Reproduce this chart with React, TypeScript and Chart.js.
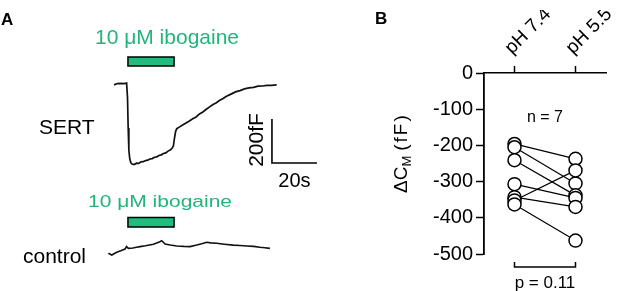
import React, { useEffect, useRef } from 'react';
import { Chart, registerables } from 'chart.js';

Chart.register(...registerables);

// ---------- Panel A data (time in s, capacitance change in fF) ----------
const sertTime = [0, 1.5, 3, 4.5, 5.6, 6.0, 6.3, 6.6, 7.0, 7.5, 8.0, 9.0, 10.0, 11.0, 12.0, 13.0, 14.0, 15.0, 16.0, 17.0, 18.0, 19.0, 20.0, 21.0, 22.0, 23.0, 24.0, 25.0, 25.8, 26.4, 26.9, 27.4, 27.9, 29, 30.5, 32, 33.5, 35, 36.5, 38, 39.5, 41, 42.5, 44, 45.5, 47, 48.5, 50, 52, 54, 56, 58, 60, 62, 64, 66, 68, 70, 72.3];
const sertFF = [-4, 2, 3, 2, 4, -60, -200, -300, -340, -358, -364, -366, -360, -361, -354, -353, -348, -346, -341, -339, -333, -331, -325, -322, -316, -313, -305, -300, -292, -282, -245, -215, -203, -196, -186, -177, -168, -158, -150, -136, -127, -115, -104, -93, -85, -74, -66, -56, -46, -36, -30, -22, -18, -15, -10, -9, -6, -6, -4];
const ctrlTime = [-2.5, -1.0, 1.2, 3, 4.9, 5.6, 6.4, 8.4, 10, 11.6, 14, 17.5, 20.4, 21.2, 22.7, 25, 27.9, 31, 33.8, 36.8, 39, 41.2, 43, 45.6, 49, 53, 56, 59, 62, 64.9, 67, 69.3];
const ctrlFF = [-1, -9, 3, 10, 18, 29, 21, 23, 26, 29, 33, 40, 51, 56, 41, 36, 32, 30, 29, 36, 42, 49, 46, 44, 40, 36, 34, 32, 30, 26, 24, 21];
const drugOn = 6.2;
const drugOff = 26.7;
const drugLabel = '10 \u03bcM ibogaine';
const traceLabels = ['SERT', 'control'];
const scaleBarStartT = 70.2;
const scaleBarStartFF = -359;
const scaleBarSec = 20;
const scaleBarFF = 200;
const scaleBarLabels = ['200fF', '20s'];

// ---------- Panel B data ----------
const phLabels = ['pH 7.4', 'pH 5.5'];
const dCmPH74 = [-196, -205, -241, -307, -343, -352, -363];
const dCmPH55 = [-237, -305, -338, -345, -370, -269, -463];
const yTickStep = 100;
const yMinB = -500;
const yMaxB = 0;
const nLabel = 'n = 7';
const pLabel = 'p = 0.11';

const FONT = '"Liberation Sans", Arial, Helvetica, sans-serif';
const GREEN_TEXT = '#22b57b';
const GREEN_BAR = '#1cbf7e';

const panelAPlugin = {
  id: 'panelA',
  afterDraw(chart: any) {
    const ctx = chart.ctx as CanvasRenderingContext2D;
    const xs = chart.scales.x;
    const ys = chart.scales.ySert;
    const yc = chart.scales.yCtrl;
    ctx.save();
    ctx.textAlign = 'left';
    ctx.textBaseline = 'alphabetic';
    // panel letter
    ctx.fillStyle = '#000';
    ctx.font = `bold 17px ${FONT}`;
    ctx.fillText('A', 1, 25);

    // drug labels
    ctx.fillStyle = GREEN_TEXT;
    ctx.font = `21px ${FONT}`;
    ctx.fillText(drugLabel, 95, 44);
    ctx.save();
    ctx.translate(88, 207);
    ctx.scale(1, 0.82);
    ctx.fillText(drugLabel, 0, 0);
    ctx.restore();

    // application bars
    const bx0 = xs.getPixelForValue(drugOn);
    const bx1 = xs.getPixelForValue(drugOff);
    const sBase = ys.getPixelForValue(0);
    const cBase = yc.getPixelForValue(0);
    ctx.fillStyle = GREEN_BAR;
    ctx.strokeStyle = '#000';
    ctx.lineWidth = 1.5;
    ctx.fillRect(bx0, sBase - 27, bx1 - bx0, 9);
    ctx.strokeRect(bx0, sBase - 27, bx1 - bx0, 9);
    ctx.fillRect(bx0, cBase - 35.5, bx1 - bx0, 9.5);
    ctx.strokeRect(bx0, cBase - 35.5, bx1 - bx0, 9.5);

    // trace labels
    ctx.fillStyle = '#000';
    ctx.font = `21px ${FONT}`;
    ctx.fillText(traceLabels[0], 39, 134);
    ctx.fillText(traceLabels[1], 23, 263);

    // scale bar
    const sx0 = xs.getPixelForValue(scaleBarStartT);
    const sx1 = xs.getPixelForValue(scaleBarStartT + scaleBarSec);
    const sy0 = ys.getPixelForValue(scaleBarStartFF);
    const sy1 = ys.getPixelForValue(scaleBarStartFF + scaleBarFF);
    ctx.beginPath();
    ctx.moveTo(sx0, sy1);
    ctx.lineTo(sx0, sy0);
    ctx.lineTo(sx1, sy0);
    ctx.lineWidth = 1.6;
    ctx.strokeStyle = '#000';
    ctx.stroke();
    ctx.save();
    ctx.translate(sx0 - 9, (sy0 + sy1) / 2 - 1);
    ctx.rotate(-Math.PI / 2);
    ctx.textAlign = 'center';
    ctx.fillText(scaleBarLabels[0], 0, 0);
    ctx.restore();
    ctx.textAlign = 'center';
    ctx.font = `20px ${FONT}`;
    ctx.fillText(scaleBarLabels[1], (sx0 + sx1) / 2, sy0 + 24);
    ctx.restore();
  },
};

const panelBPlugin = {
  id: 'panelB',
  afterDraw(chart: any) {
    const ctx = chart.ctx as CanvasRenderingContext2D;
    const xs = chart.scales.x;
    const ys = chart.scales.y;
    ctx.save();
    ctx.fillStyle = '#000';
    ctx.strokeStyle = '#000';
    ctx.textBaseline = 'alphabetic';
    ctx.textAlign = 'left';
    ctx.font = `bold 17px ${FONT}`;
    ctx.fillText('B', 35, 24);

    // y-axis title: ΔC_M (fF)
    ctx.save();
    ctx.translate(67, 193);
    ctx.rotate(-Math.PI / 2);
    let px = 0;
    ctx.font = `19px ${FONT}`;
    ctx.fillText('\u0394C', px, 0);
    px += ctx.measureText('\u0394C').width;
    ctx.font = `13px ${FONT}`;
    ctx.fillText('M', px, 4);
    px += ctx.measureText('M').width + 5;
    ctx.font = `19px ${FONT}`;
    for (const ch of ['(', 'f', 'F', ')']) {
      ctx.fillText(ch, px, 0);
      px += ctx.measureText(ch).width + 2;
    }
    ctx.restore();

    const c0 = xs.getPixelForValue(0);
    const c1 = xs.getPixelForValue(1);
    const mid = (c0 + c1) / 2;
    ctx.textAlign = 'center';
    ctx.font = `16px ${FONT}`;
    ctx.fillText(nLabel, mid, 122);

    // significance bracket
    const by = ys.getPixelForValue(yMinB) + 13;
    ctx.beginPath();
    ctx.moveTo(c0, by - 5);
    ctx.lineTo(c0, by);
    ctx.lineTo(c1, by);
    ctx.lineTo(c1, by - 5);
    ctx.lineWidth = 1.5;
    ctx.stroke();
    ctx.font = `17px ${FONT}`;
    ctx.fillText(pLabel, mid, 288);
    ctx.restore();
  },
};

export default function App() {
  const aRef = useRef<HTMLCanvasElement>(null);
  const bRef = useRef<HTMLCanvasElement>(null);

  useEffect(() => {
    const pxPerFF = 44 / 200;
    const H = 291;
    const sertBaseline = 84;
    const ctrlBaseline = 253;
    const chartA = new Chart(aRef.current as HTMLCanvasElement, {
      type: 'line',
      data: {
        datasets: [
          {
            data: sertTime.map((t, i) => ({ x: t, y: sertFF[i] })),
            yAxisID: 'ySert',
            borderColor: '#111',
            borderWidth: 1.7,
            pointRadius: 0,
            tension: 0,
          },
          {
            data: ctrlTime.map((t, i) => ({ x: t, y: ctrlFF[i] })),
            yAxisID: 'yCtrl',
            borderColor: '#111',
            borderWidth: 1.6,
            pointRadius: 0,
            tension: 0,
          },
        ],
      },
      options: {
        responsive: false,
        animation: false,
        devicePixelRatio: 1,
        events: [],
        layout: { padding: { left: 100.5, right: 10, top: 0, bottom: 0 } },
        plugins: { legend: { display: false }, tooltip: { enabled: false } },
        scales: {
          x: { type: 'linear', min: -6, max: 96, display: false },
          ySert: {
            type: 'linear',
            display: false,
            max: sertBaseline / pxPerFF,
            min: -(H - sertBaseline) / pxPerFF,
          },
          yCtrl: {
            type: 'linear',
            display: false,
            max: ctrlBaseline / pxPerFF,
            min: -(H - ctrlBaseline) / pxPerFF,
          },
        },
      },
      plugins: [panelAPlugin],
    } as any);

    const lineSets = dCmPH74.map((v, i) => ({
      data: [
        { x: phLabels[0], y: v },
        { x: phLabels[1], y: dCmPH55[i] },
      ],
      borderColor: '#000',
      borderWidth: 1.2,
      pointRadius: 0,
      order: 2,
      clip: false,
    }));
    const pointSet = {
      data: [
        ...dCmPH74.map((v) => ({ x: phLabels[0], y: v })),
        ...dCmPH55.map((v) => ({ x: phLabels[1], y: v })),
      ],
      showLine: false,
      pointRadius: 6.5,
      pointBackgroundColor: '#fff',
      pointBorderColor: '#000',
      pointBorderWidth: 1.5,
      order: 1,
      clip: false,
    };

    const chartB = new Chart(bRef.current as HTMLCanvasElement, {
      type: 'line',
      data: { labels: phLabels, datasets: [...lineSets, pointSet] },
      options: {
        responsive: false,
        animation: false,
        devicePixelRatio: 1,
        events: [],
        layout: { padding: { left: 84, right: 11, top: 10, bottom: 37 } },
        plugins: { legend: { display: false }, tooltip: { enabled: false } },
        scales: {
          x: {
            type: 'category',
            position: 'top',
            offset: true,
            afterFit: (s: any) => {
              s.height = 63;
              s.paddingLeft = 0;
              s.paddingRight = 0;
            },
            grid: {
              offset: false,
              drawOnChartArea: false,
              drawTicks: true,
              tickLength: 7,
              tickWidth: 1.5,
              tickColor: '#000',
            },
            border: { display: true, color: '#000', width: 1.6 },
            ticks: {
              color: '#000',
              font: { family: FONT, size: 19 },
              minRotation: 45,
              maxRotation: 45,
              padding: 7,
              labelOffset: 10,
            },
          },
          y: {
            type: 'linear',
            position: 'left',
            min: yMinB,
            max: yMaxB,
            afterFit: (s: any) => {
              s.width = 60;
              s.paddingTop = 0;
              s.paddingBottom = 0;
            },
            grid: {
              drawOnChartArea: false,
              drawTicks: true,
              tickLength: 8,
              tickWidth: 1.5,
              tickColor: '#000',
            },
            border: { display: true, color: '#000', width: 1.8 },
            ticks: {
              stepSize: yTickStep,
              color: '#000',
              font: { family: FONT, size: 20 },
              padding: 3,
              callback: (v: any) => String(v),
            },
          },
        },
      },
      plugins: [panelBPlugin],
    } as any);

    return () => {
      chartA.destroy();
      chartB.destroy();
    };
  }, []);

  return (
    <div style={{ position: 'fixed', left: 0, top: 0, width: 617, height: 291, background: '#fff' }}>
      <canvas
        ref={aRef}
        width={340}
        height={291}
        style={{ position: 'absolute', left: 0, top: 0, width: 340, height: 291 }}
      />
      <canvas
        ref={bRef}
        width={277}
        height={291}
        style={{ position: 'absolute', left: 340, top: 0, width: 277, height: 291 }}
      />
    </div>
  );
}
